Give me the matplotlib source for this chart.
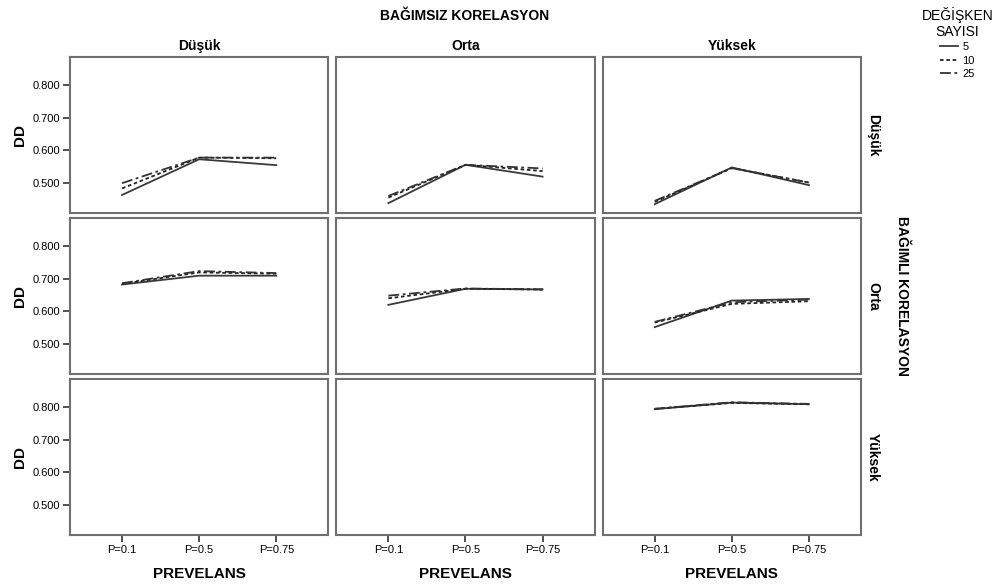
import numpy as np
import matplotlib
matplotlib.use('Agg')
import matplotlib.pyplot as plt

plt.rcParams['font.family'] = ['Liberation Sans', 'DejaVu Sans']

prevalence = ['P=0.1', 'P=0.5', 'P=0.75']
indep_levels = ['Düşük', 'Orta', 'Yüksek']   # columns: BAĞIMSIZ KORELASYON
dep_levels = ['Düşük', 'Orta', 'Yüksek']     # rows: BAĞIMLI KORELASYON
n_vars = ['5', '10', '25']

# DD values, [dependent row][independent col][variable count] -> 3 prevalence values
nan = [np.nan, np.nan, np.nan]
dd = [
    [  # dep Düşük
        [[0.464, 0.573, 0.555], [0.484, 0.578, 0.576], [0.500, 0.578, 0.578]],
        [[0.439, 0.556, 0.520], [0.456, 0.556, 0.537], [0.461, 0.556, 0.545]],
        [[0.436, 0.548, 0.494], [0.443, 0.546, 0.502], [0.446, 0.546, 0.502]],
    ],
    [  # dep Orta
        [[0.682, 0.709, 0.709], [0.684, 0.719, 0.715], [0.686, 0.723, 0.717]],
        [[0.620, 0.669, 0.667], [0.640, 0.669, 0.667], [0.648, 0.670, 0.667]],
        [[0.552, 0.633, 0.638], [0.566, 0.623, 0.631], [0.568, 0.628, 0.636]],
    ],
    [  # dep Yüksek
        [nan, nan, nan],
        [nan, nan, nan],
        [[0.793, 0.813, 0.808], [0.794, 0.812, 0.808], [0.794, 0.814, 0.809]],
    ],
]

styles = [
    dict(linestyle='-', color='#3a3a3a', linewidth=1.3),
    dict(linestyle=(0, (2, 1.5)), color='#222222', linewidth=1.3),
    dict(linestyle=(0, (6, 2, 1.5, 2)), color='#333333', linewidth=1.3),
]

fig, axes = plt.subplots(3, 3, figsize=(9.97, 5.84), dpi=100, sharex=True, sharey=True)
fig.subplots_adjust(left=0.0702, right=0.8636, top=0.9024, bottom=0.0839,
                    wspace=0.031, hspace=0.032)

x = np.arange(len(prevalence))
for r in range(3):
    for c in range(3):
        ax = axes[r, c]
        for k in range(3):
            ax.plot(x, dd[r][c][k], label=n_vars[k], **styles[k])
        ax.set_xlim(-0.675, 2.675)
        ax.set_ylim(0.409, 0.885)
        ax.set_xticks(x)
        ax.set_xticklabels(prevalence, fontsize=8)
        ax.set_yticks([0.5, 0.6, 0.7, 0.8])
        ax.set_yticklabels(['0.500', '0.600', '0.700', '0.800'], fontsize=8)
        for s in ax.spines.values():
            s.set_color('#707070')
            s.set_linewidth(1.5)
        ax.tick_params(direction='out', length=5, width=1.2, color='#333333', pad=2)
        if c != 0:
            ax.tick_params(axis='y', left=False, labelleft=False)
        if r != 2:
            ax.tick_params(axis='x', bottom=False, labelbottom=False)
        if r == 0:
            ax.set_title(indep_levels[c], fontsize=10, fontweight='bold', pad=5)
        if r == 2:
            ax.set_xlabel('PREVELANS', fontsize=11, fontweight='bold', labelpad=9)
        if c == 0:
            ax.set_ylabel('DD', fontsize=11, fontweight='bold', labelpad=4)
        if c == 2:
            ax.text(1.02, 0.5, dep_levels[r], transform=ax.transAxes, rotation=-90,
                    ha='left', va='center', fontsize=10, fontweight='bold')

fig.text(0.466, 0.973, 'BAĞIMSIZ KORELASYON', ha='center', va='center',
         fontsize=10, fontweight='bold')
fig.text(0.905, 0.493, 'BAĞIMLI KORELASYON', ha='center', va='center',
         rotation=-90, fontsize=10, fontweight='bold')

handles, labels = axes[0, 0].get_legend_handles_labels()
leg = fig.legend(handles, labels, loc='upper right', bbox_to_anchor=(1.003, 1.0),
                 frameon=False, fontsize=8, title='DEĞİŞKEN\nSAYISI',
                 title_fontsize=10, handlelength=1.6, handletextpad=0.4,
                 labelspacing=0.3, borderpad=0.1)
leg.get_title().set_multialignment('center')

fig.savefig('out.png', dpi=100)
